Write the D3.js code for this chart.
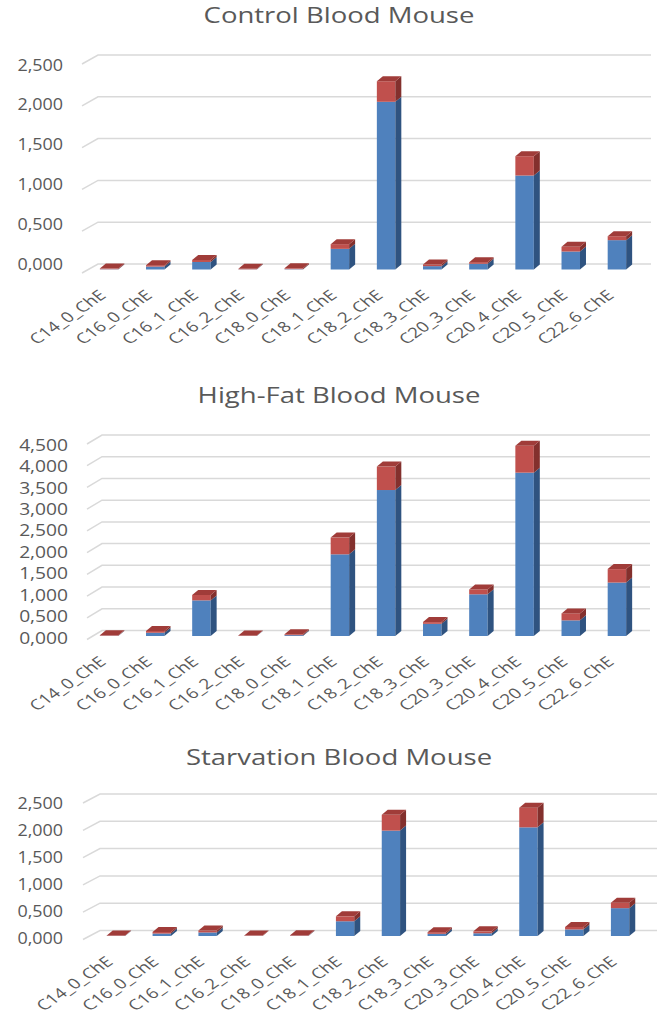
<!DOCTYPE html>
<html>
<head>
<meta charset="utf-8">
<script src="https://cdn.jsdelivr.net/npm/d3@7"></script>
<style>
  html, body { margin: 0; padding: 0; background: #fff; }
  svg { display: block; }
</style>
</head>
<body>
<div id="chart"></div>
<script>
// lipid species on the x axis
const categories = ['C14_0_ChE', 'C16_0_ChE', 'C16_1_ChE', 'C16_2_ChE', 'C18_0_ChE', 'C18_1_ChE',
                    'C18_2_ChE', 'C18_3_ChE', 'C20_3_ChE', 'C20_4_ChE', 'C20_5_ChE', 'C22_6_ChE'];

// blue = lower stack, red = upper stack
const controlBlue = [0.003, 0.035, 0.090, 0.002, 0.004, 0.247, 2.006, 0.040, 0.068, 1.124, 0.215, 0.351];
const controlRed  = [0.008, 0.017, 0.025, 0.006, 0.010, 0.056, 0.246, 0.020, 0.020, 0.231, 0.056, 0.047];

const highFatBlue = [0.005, 0.075, 0.820, 0.003, 0.020, 1.880, 3.360, 0.280, 0.960, 3.760, 0.360, 1.230];
const highFatRed  = [0.012, 0.040, 0.125, 0.010, 0.020, 0.385, 0.540, 0.040, 0.110, 0.620, 0.160, 0.310];

const starvationBlue = [0.003, 0.045, 0.065, 0.002, 0.005, 0.270, 1.930, 0.040, 0.050, 1.990, 0.120, 0.510];
const starvationRed  = [0.007, 0.030, 0.035, 0.005, 0.010, 0.090, 0.290, 0.030, 0.035, 0.360, 0.045, 0.100];

const controlTicks = [0, 0.5, 1, 1.5, 2, 2.5];
const highFatTicks = [0, 0.5, 1, 1.5, 2, 2.5, 3, 3.5, 4, 4.5];
const starvationTicks = [0, 0.5, 1, 1.5, 2, 2.5];

const titles = ['Control Blood Mouse', 'High-Fat Blood Mouse', 'Starvation Blood Mouse'];

const W = 672, H = 1017;
const textColor = '#595959';
const gridColor = '#d9d9d9';
const font = "'Open Sans', sans-serif";
const colors = {
  blue: { front: '#4f81bd', side: '#2f5380', top: '#3f6aa0' },
  red:  { front: '#c0504d', side: '#83302d', top: '#a03c39' }
};
const depth = { dx: 6, dy: -5 };

const fmt = d3.formatLocale({ decimal: ',', thousands: '.', grouping: [3], currency: ['', ''] }).format('.3f');

const panels = [
  { title: titles[0], blue: controlBlue, red: controlRed, ticks: controlTicks,
    titleY: 23, x0: 86, x1: 640, back0: 264, backTop: 55, label0: 264, labelTop: 65, labelX: 63,
    gx0: 82, gx1: 98, gx2: 651 },
  { title: titles[1], blue: highFatBlue, red: highFatRed, ticks: highFatTicks,
    titleY: 403, x0: 86, x1: 640, back0: 630.5, backTop: 435, label0: 638, labelTop: 445, labelX: 68,
    gx0: 87, gx1: 102, gx2: 650 },
  { title: titles[2], blue: starvationBlue, red: starvationRed, ticks: starvationTicks,
    titleY: 765, x0: 93, x1: 643, back0: 930.5, backTop: 794, label0: 938, labelTop: 803, labelX: 63,
    gx0: 83, gx1: 100, gx2: 657 }
];

const svg = d3.select('#chart').append('svg')
  .attr('width', W)
  .attr('height', H);

// stretch text horizontally, the source picture is wider than normal glyphs
function stretch(sel, k) {
  sel.each(function() {
    const len = this.getComputedTextLength();
    d3.select(this).attr('textLength', len * k).attr('lengthAdjust', 'spacingAndGlyphs');
  });
}

function drawPanel(p) {
  const g = svg.append('g');
  const max = p.ticks[p.ticks.length - 1];

  const x = d3.scaleBand().domain(categories).range([p.x0, p.x1]).paddingInner(0.6).paddingOuter(0.3);
  const yBack = d3.scaleLinear().domain([0, max]).range([p.back0, p.backTop]);
  const yLabel = d3.scaleLinear().domain([0, max]).range([p.label0, p.labelTop]);
  const yBar = d3.scaleLinear().domain([0, max]).range([p.back0 + 5.5, p.backTop + 5.5]);

  // gridlines: short diagonal for the side wall then flat back wall line
  g.append('g').selectAll('path')
    .data(p.ticks)
    .enter().append('path')
    .attr('d', t => 'M' + p.gx0 + ',' + (yBack(t) + 9) + 'L' + p.gx1 + ',' + yBack(t) + 'L' + p.gx2 + ',' + yBack(t))
    .attr('fill', 'none')
    .attr('stroke', gridColor)
    .attr('stroke-width', 1.5);

  // y axis labels
  const yAxis = g.append('g')
    .attr('transform', 'translate(' + p.labelX + ',0)')
    .call(d3.axisLeft(yLabel).tickValues(p.ticks).tickFormat(fmt).tickSize(0).tickPadding(0));
  yAxis.select('.domain').remove();
  yAxis.selectAll('text')
    .attr('font-family', font)
    .attr('font-size', 16)
    .attr('fill', textColor)
    .call(stretch, p.labelX === 68 ? 1.2 : 1.12);

  // bars
  const rows = categories.map((c, i) => ({ cat: c, blue: p.blue[i], red: p.red[i] }));
  const series = d3.stack().keys(['blue', 'red'])(rows);
  const w = x.bandwidth();

  series.forEach((s, si) => {
    const col = colors[s.key];
    const sg = g.append('g');
    sg.selectAll('rect')
      .data(s)
      .enter().append('rect')
      .attr('x', d => x(d.data.cat))
      .attr('y', d => yBar(d[1]))
      .attr('width', w)
      .attr('height', d => yBar(d[0]) - yBar(d[1]))
      .attr('fill', col.front);
    sg.selectAll('path.side')
      .data(s)
      .enter().append('path')
      .attr('class', 'side')
      .attr('d', d => {
        const xr = x(d.data.cat) + w;
        return 'M' + xr + ',' + yBar(d[1]) + 'L' + (xr + depth.dx) + ',' + (yBar(d[1]) + depth.dy) +
               'L' + (xr + depth.dx) + ',' + (yBar(d[0]) + depth.dy) + 'L' + xr + ',' + yBar(d[0]) + 'Z';
      })
      .attr('fill', col.side);
    if (si === series.length - 1) {
      sg.selectAll('path.top')
        .data(s)
        .enter().append('path')
        .attr('class', 'top')
        .attr('d', d => {
          const xl = x(d.data.cat), yt = yBar(d[1]);
          return 'M' + xl + ',' + yt + 'L' + (xl + depth.dx) + ',' + (yt + depth.dy) +
                 'L' + (xl + w + depth.dx) + ',' + (yt + depth.dy) + 'L' + (xl + w) + ',' + yt + 'Z';
        })
        .attr('fill', col.top);
    }
  });

  // x axis labels, slanted and widened like the source
  const xAxis = g.append('g')
    .attr('transform', 'translate(0,' + yBar(0) + ')')
    .call(d3.axisBottom(x).tickSize(0));
  xAxis.select('.domain').remove();
  xAxis.selectAll('text')
    .attr('font-family', font)
    .attr('font-size', 14.5)
    .attr('fill', textColor)
    .attr('y', null)
    .attr('dy', null)
    .attr('text-anchor', 'end')
    .attr('transform', 'translate(-2,27) scale(1.3,1) rotate(-42)');

  // title
  g.append('text')
    .attr('x', 339)
    .attr('y', p.titleY)
    .attr('text-anchor', 'middle')
    .attr('font-family', font)
    .attr('font-size', 22)
    .attr('fill', textColor)
    .text(p.title)
    .call(stretch, 1.25);
}

panels.forEach(drawPanel);
</script>
</body>
</html>
